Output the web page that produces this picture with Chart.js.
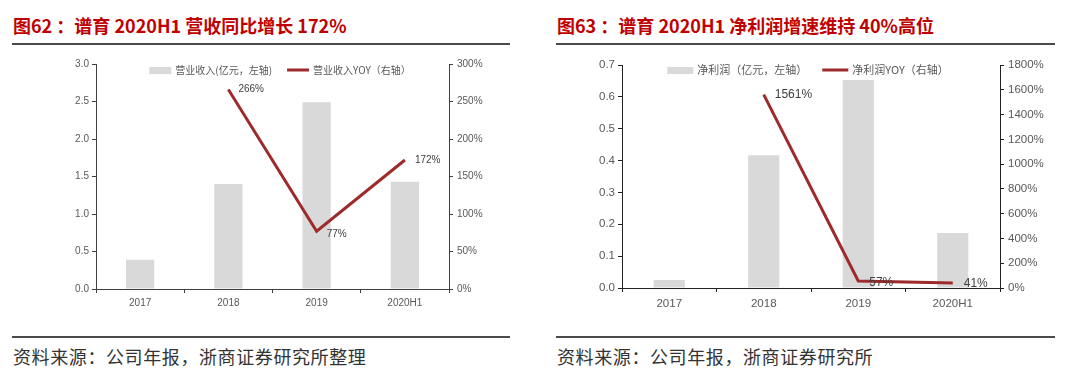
<!DOCTYPE html>
<html>
<head>
<meta charset="utf-8">
<script src="https://cdn.jsdelivr.net/npm/chart.js@4.4.0/dist/chart.umd.min.js"></script>
<style>
body{margin:0;width:1080px;height:378px;background:#fff;position:relative;overflow:hidden;font-family:"Noto Sans CJK SC",sans-serif}
.title{position:absolute;top:16px;line-height:18px;font-size:18px;font-weight:bold;color:#c00000;white-space:nowrap}
.rule{position:absolute;height:2px;background:#4a4a4a}
.src{position:absolute;top:347px;line-height:18px;font-size:18px;letter-spacing:0.6px;color:#333;white-space:nowrap}
canvas{position:absolute;top:50px}
</style>
</head>
<body>
<div class="title" style="left:13px">图62 ：谱育 2020H1 营收同比增长 172%</div>
<div class="title" style="left:557px">图63 ：谱育 2020H1 净利润增速维持 40%高位</div>
<div class="rule" style="left:12px;width:498px;top:43px"></div>
<div class="rule" style="left:556px;width:499px;top:43px"></div>
<canvas id="c1" width="540" height="270" style="left:0"></canvas>
<canvas id="c2" width="540" height="270" style="left:540px"></canvas>
<div class="rule" style="left:12px;width:498px;top:336px"></div>
<div class="rule" style="left:556px;width:499px;top:336px"></div>
<div class="src" style="left:13px">资料来源：公司年报，浙商证券研究所整理</div>
<div class="src" style="left:557px">资料来源：公司年报，浙商证券研究所</div>

<script>
// data
var years = ['2017', '2018', '2019', '2020H1'];
var revenue = [0.39, 1.40, 2.49, 1.43];        // 亿元
var revenueYoy = [null, 266, 77, 172];          // %
var profit = [0.025, 0.417, 0.653, 0.173];      // 亿元
var profitYoy = [null, 1561, 57, 41];           // %

var barColor = '#d9d9d9';
var lineColor = '#9e2a2b';

// percent labels next to the line points
var pctLabels = {
	id: 'pctLabels',
	afterDatasetsDraw: function(chart, args, opts) {
		var ctx = chart.ctx;
		var meta = chart.getDatasetMeta(opts.dataset);
		var data = chart.data.datasets[opts.dataset].data;
		ctx.save();
		ctx.font = opts.size + 'px "Liberation Sans", Arial';
		ctx.fillStyle = '#404040';
		ctx.textAlign = 'left';
		ctx.textBaseline = 'middle';
		meta.data.forEach(function(pt, i) {
			if (data[i] == null) return;
			ctx.fillText(data[i] + '%', pt.x + opts.dx, pt.y + (opts.dy[i] || 0));
		});
		ctx.restore();
	}
};

// legend drawn inside the plot, one row
var legendRow = {
	id: 'legendRow',
	afterDraw: function(chart, args, opts) {
		var ctx = chart.ctx;
		ctx.save();
		ctx.font = opts.size + 'px "Noto Sans CJK SC"';
		ctx.textBaseline = 'middle';
		var sets = chart.data.datasets;
		var total = 0;
		sets.forEach(function(ds, i) {
			total += opts.box + opts.gap + ctx.measureText(ds.label).width;
			if (i < sets.length - 1) total += opts.spacing;
		});
		var x = opts.cx - total / 2;
		sets.forEach(function(ds) {
			if (ds.type == 'line') {
				ctx.strokeStyle = ds.borderColor;
				ctx.lineWidth = 3;
				ctx.beginPath();
				ctx.moveTo(x, opts.y);
				ctx.lineTo(x + opts.box, opts.y);
				ctx.stroke();
			} else {
				ctx.fillStyle = ds.backgroundColor;
				ctx.fillRect(x, opts.y - 3, opts.box, 7);
			}
			x += opts.box + opts.gap;
			ctx.fillStyle = '#595959';
			ctx.fillText(ds.label, x, opts.y);
			x += ctx.measureText(ds.label).width + opts.spacing;
		});
		ctx.restore();
	}
};

function makeChart(id, bars, line, barLabel, lineLabel, cfg) {
	var axisColor = cfg.axisColor;
	var tickFont = {family: '"Liberation Sans", Arial', size: cfg.fs};
	return new Chart(document.getElementById(id), {
		type: 'bar',
		data: {
			labels: years,
			datasets: [{
				type: 'bar',
				label: barLabel,
				data: bars,
				backgroundColor: barColor,
				barPercentage: cfg.barPct,
				categoryPercentage: 1,
				yAxisID: 'y',
				order: 2
			}, {
				type: 'line',
				label: lineLabel,
				data: line,
				borderColor: lineColor,
				borderWidth: 3,
				pointRadius: 0,
				tension: 0,
				yAxisID: 'y1',
				order: 1
			}]
		},
		options: {
			responsive: false,
			devicePixelRatio: 1,
			animation: false,
			layout: {padding: cfg.pad},
			plugins: {
				legend: {display: false},
				tooltip: {enabled: false},
				pctLabels: {dataset: 1, size: cfg.labelFs, dx: cfg.dx, dy: cfg.dy},
				legendRow: {cx: cfg.legendX, y: 20, size: cfg.legendFs, box: cfg.legendBox, gap: 4, spacing: 15}
			},
			scales: {
				x: {
					grid: {drawOnChartArea: false, offset: true, tickLength: 4, color: axisColor},
					border: {color: axisColor},
					ticks: {font: tickFont, color: '#595959', padding: cfg.xPad, maxRotation: 0},
					afterFit: function(s) { s.height = 22; }
				},
				y: {
					position: 'left',
					min: 0, max: cfg.yMax,
					grid: {drawOnChartArea: false, tickLength: 4, color: axisColor},
					border: {color: axisColor},
					ticks: {stepSize: cfg.yStep, font: tickFont, color: '#595959', padding: 3,
						callback: function(v) { return v.toFixed(1); }},
					afterFit: function(s) { s.width = 40; }
				},
				y1: {
					position: 'right',
					min: 0, max: cfg.y1Max,
					grid: {drawOnChartArea: false, tickLength: 4, color: axisColor},
					border: {color: axisColor},
					ticks: {stepSize: cfg.y1Step, font: tickFont, color: '#595959', padding: 4,
						callback: function(v) { return v + '%'; }},
					afterFit: function(s) { s.width = cfg.y1W; }
				}
			}
		},
		plugins: [pctLabels, legendRow]
	});
}

makeChart('c1', revenue, revenueYoy, '营业收入(亿元，左轴)', '营业收入YOY（右轴）', {
	axisColor: '#404040', fs: 10, labelFs: 10, barPct: 0.32,
	pad: {left: 56, right: 41, top: 14, bottom: 9},
	yMax: 3, yStep: 0.5, y1Max: 300, y1Step: 50, y1W: 50,
	dx: 10, dy: [0, 0, 3, 0], xPad: 4,
	legendX: 280, legendFs: 10, legendBox: 22
});

makeChart('c2', profit, profitYoy, '净利润（亿元，左轴）', '净利润YOY（右轴）', {
	axisColor: '#222', fs: 11.5, labelFs: 12, barPct: 0.33,
	pad: {left: 42, right: 25, top: 15, bottom: 10},
	yMax: 0.7, yStep: 0.1, y1Max: 1800, y1Step: 200, y1W: 55,
	dx: 11, dy: [0, 0, 2, 1], xPad: 5,
	legendX: 268, legendFs: 11, legendBox: 26
});
</script>
</body>
</html>
